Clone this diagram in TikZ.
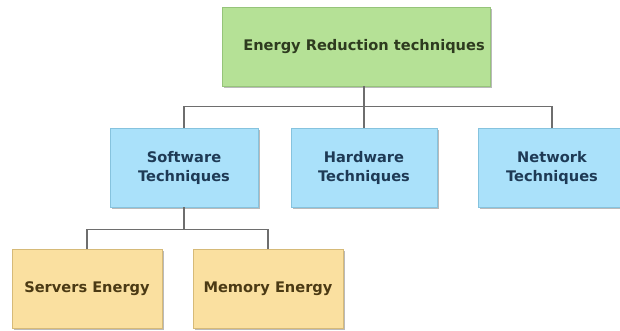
\documentclass[tikz,border=0pt]{standalone}
\usepackage{fontspec}
\setmainfont{DejaVu Sans}
\usetikzlibrary{shadows}
\definecolor{gfill}{HTML}{B5E196}
\definecolor{gdraw}{HTML}{96C47A}
\definecolor{gtext}{HTML}{2E3B1F}
\definecolor{bfill}{HTML}{AAE1FA}
\definecolor{bdraw}{HTML}{86C3DE}
\definecolor{btext}{HTML}{1E3A55}
\definecolor{yfill}{HTML}{FAE0A0}
\definecolor{ydraw}{HTML}{D6BA78}
\definecolor{ytext}{HTML}{4B3A14}
\definecolor{conn}{HTML}{6E6E6E}
\begin{document}
\begin{tikzpicture}[x=1pt,y=-1pt,
  boxbase/.style={rectangle, line width=0.8pt, align=center, inner sep=0pt,
    font=\fontsize{14.6}{19}\selectfont\bfseries,
    drop shadow={shadow xshift=1.6pt, shadow yshift=-1.6pt, opacity=0.45, fill=black!60}},
  topbox/.style={boxbase, fill=gfill, draw=gdraw, text=gtext, minimum width=268pt, minimum height=79pt},
  midbox/.style={boxbase, fill=bfill, draw=bdraw, text=btext, minimum width=148pt, minimum height=79pt},
  lowbox/.style={boxbase, fill=yfill, draw=ydraw, text=ytext, minimum width=150pt, minimum height=79pt},
  link/.style={draw=conn, line width=1.3pt}]
\clip (0,0) rectangle (620,331);
\fill[white] (0,0) rectangle (620,331);
\node[topbox] (top) at (356,46.5) {\hspace*{16pt}Energy Reduction techniques};
\node[midbox] (sw) at (184,167.5) {Software\\Techniques};
\node[midbox, minimum width=146pt] (hw) at (364,167.5) {Hardware\\Techniques};
\node[midbox] (nw) at (552,167.5) {Network\\Techniques};
\node[lowbox] (se) at (87,288.5) {Servers Energy};
\node[lowbox] (me) at (268,288.5) {Memory Energy};
\draw[link] (top.south -| hw.north) -- (hw.north);
\draw[link] (sw.north) -- ++(0,-21) -| (nw.north);
\draw[link] (se.north) -- ++(0,-19) -| (me.north);
\draw[link] (sw.south) -- ++(0,23);
\end{tikzpicture}
\end{document}
